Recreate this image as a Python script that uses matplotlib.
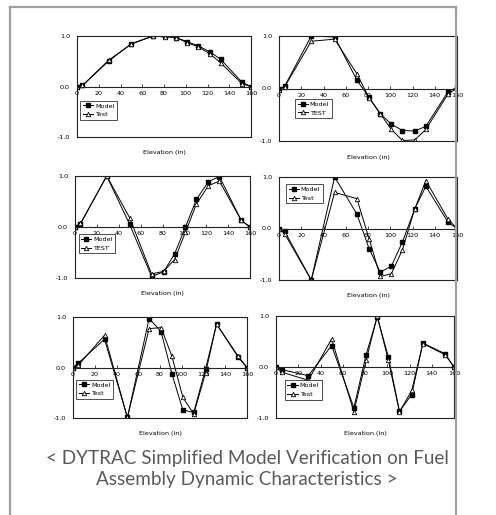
import numpy as np
import matplotlib
matplotlib.use("Agg")
import matplotlib.pyplot as plt
from matplotlib.lines import Line2D

W, H = 496, 515

# elevations of the grid nodes (in)
elev = [0, 5, 29, 50, 70, 81, 91, 101, 111, 122, 132, 152, 160]

model1 = [0, 0.02, 0.50, 0.85, 1.0, 1.0, 0.97, 0.89, 0.81, 0.69, 0.54, 0.08, 0]
test1 = [0, 0.02, 0.52, 0.84, 1.0, 0.98, 0.97, 0.87, 0.79, 0.65, 0.47, 0.05, 0]

model2 = [0, 0.04, 1.0, 0.98, 0.16, -0.17, -0.48, -0.68, -0.80, -0.81, -0.72, -0.06, 0.02]
test2 = [-0.02, 0.03, 0.90, 0.94, 0.28, -0.18, -0.48, -0.78, -0.99, -0.98, -0.78, -0.10, 0]

model3 = [0, 0.06, 1.0, 0.05, -0.97, -0.88, -0.53, 0.0, 0.54, 0.89, 0.99, 0.13, 0]
test3 = [0, 0.07, 1.0, 0.18, -0.92, -0.87, -0.64, -0.10, 0.45, 0.81, 0.90, 0.13, 0]

model4 = [0, -0.05, -1.0, 1.0, 0.28, -0.39, -0.85, -0.73, -0.26, 0.38, 0.82, 0.12, 0]
test4 = [0, -0.10, -1.0, 0.70, 0.58, -0.20, -0.93, -0.88, -0.41, 0.38, 0.93, 0.18, 0]

model5 = [0, 0.09, 0.56, -0.99, 0.97, 0.71, -0.13, -0.84, -0.89, -0.02, 0.86, 0.20, 0]
test5 = [0, 0.05, 0.64, -0.99, 0.77, 0.79, 0.22, -0.59, -0.92, -0.10, 0.86, 0.22, 0]

model6 = [0, -0.05, -0.17, 0.42, -0.80, 0.24, 0.98, 0.20, -0.87, -0.54, 0.47, 0.26, 0]
test6 = [0, -0.10, -0.26, 0.55, -0.88, 0.13, 1.0, 0.13, -0.88, -0.46, 0.46, 0.24, 0]

test_names = ["Test", "TEST", "TEST", "Test", "Test", "Test"]

# panel boxes in pixels: left, top, right, bottom
boxes = [(77, 36, 251, 137), (279, 36, 457, 141),
         (75, 176, 250, 278), (279, 177, 457, 280),
         (73, 317, 247, 418), (276, 316, 454, 418)]
# legend upper-left corner in axes fraction
leg_pos = [(0.02, 0.36), (0.09, 0.40), (0.02, 0.43), (0.04, 0.93), (0.02, 0.38), (0.05, 0.37)]

small = dict(family="Liberation Sans Narrow", size=4.6)

fig = plt.figure(figsize=(W / 100, H / 100), dpi=100)

# outer grey frame
fr = dict(color="#a0a0a0", lw=1.6, transform=fig.transFigure)
fig.add_artist(Line2D([10 / W, 10 / W], [0, 1 - 6.5 / H], **fr))
fig.add_artist(Line2D([10 / W, 456 / W], [1 - 6.5 / H, 1 - 6.5 / H], **fr))
fig.add_artist(Line2D([456 / W, 456 / W], [0, 1 - 6.5 / H], **fr))

models = [model1, model2, model3, model4, model5, model6]
tests = [test1, test2, test3, test4, test5, test6]

for i in range(6):
    l, t, r, b = boxes[i]
    ax = fig.add_axes([l / W, 1 - b / H, (r - l) / W, (b - t) / H])
    ax.plot(elev, models[i], color="black", lw=0.7, marker="s", ms=3.0,
            mfc="black", mec="black", label="Model")
    ax.plot(elev, tests[i], color="black", lw=0.7, marker="^", ms=3.2,
            mfc="white", mec="black", mew=0.6, label=test_names[i])
    ax.set_xlim(0, 160)
    ax.set_ylim(-1, 1)
    ax.spines["bottom"].set_position(("data", 0))
    for s in ["top", "left", "right", "bottom"]:
        ax.spines[s].set_linewidth(0.8)
        ax.spines[s].set_color("#222222")
    ax.add_line(Line2D([0, 1], [0, 0], transform=ax.transAxes, color="#222222",
                       lw=0.8, clip_on=False))
    ax.set_xticks(np.arange(0, 161, 20))
    ax.set_yticks([-1, 0, 1])
    ax.set_yticklabels(["-1.0", "0.0", "1.0"], **small)
    ax.set_xticklabels([str(v) for v in range(0, 161, 20)], **small)
    ax.tick_params(axis="x", direction="in", length=2, width=0.5, pad=3)
    ax.tick_params(axis="y", length=0, pad=5)
    ax.text(0.5, -0.13, "Elevation (in)", transform=ax.transAxes,
            ha="center", va="top", **small)
    ax.legend(loc="upper left", bbox_to_anchor=leg_pos[i], prop=small,
              frameon=True, fancybox=False, edgecolor="black",
              handlelength=1.6, handletextpad=0.3, borderpad=0.4,
              labelspacing=0.5, borderaxespad=0).get_frame().set_linewidth(0.6)

cap = "< DYTRAC Simplified Model Verification on Fuel\nAssembly Dynamic Characteristics >"
fig.text(247 / W, 1 - 469 / H, cap, ha="center", va="center", fontsize=13.6,
         family="Lato", color="#5a5a5a", linespacing=1.3)

plt.savefig("out.png", dpi=100)
